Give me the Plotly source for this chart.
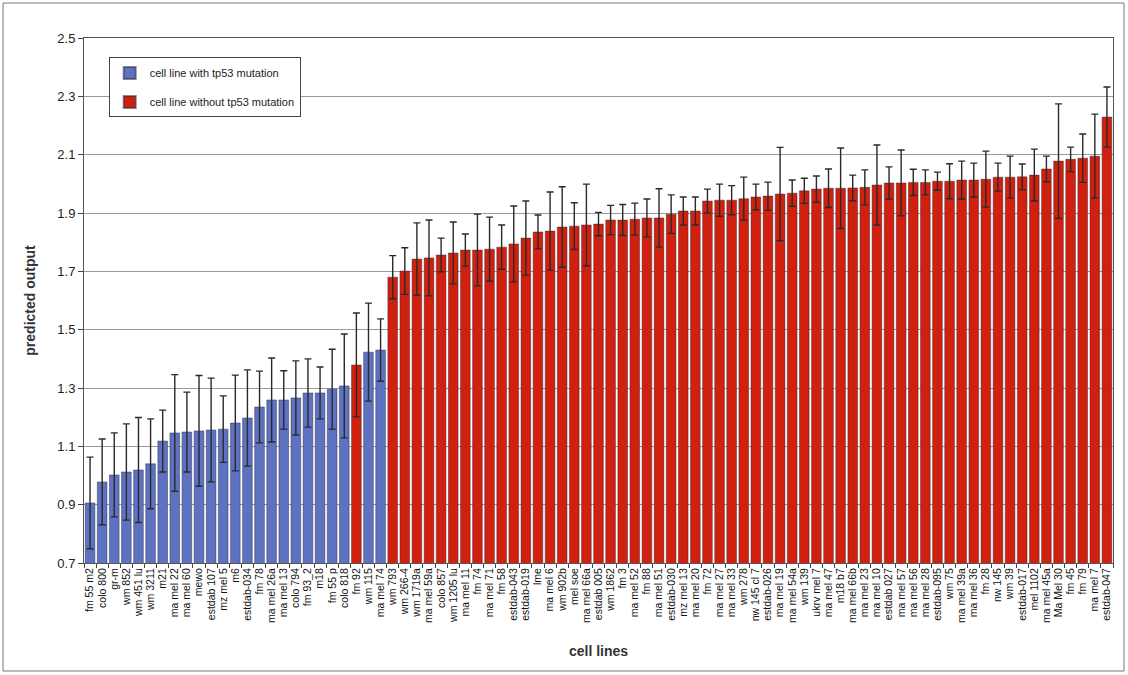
import plotly.graph_objects as go

cell_lines = [
    "fm 55 m2", "colo 800", "gr-m", "wm 852", "wm 451 lu", "wm 3211", "m21",
    "ma mel 22", "ma mel 60", "mewo", "estdab 107", "mz mel 5", "m6", "estdab-034",
    "fm 78", "ma mel 26a", "ma mel 13", "colo 794", "fm 93_2", "m18", "fm 55 p",
    "colo 818", "fm 92", "wm 115", "ma mel 74", "wm 793", "wm 266-4", "wm 1719a",
    "ma mel 59a", "colo 857", "wm 1205 lu", "ma mel 11", "fm 74", "ma mel 71",
    "fm 58", "estdab-043", "estdab-019", "lme", "ma mel 6", "wm 902b", "mel soe",
    "ma mel 66a", "estdab 005", "wm 1862", "fm 3", "ma mel 52", "fm 88",
    "ma mel 51", "estdab-030", "mz mel 13", "ma mel 20", "fm 72", "ma mel 27",
    "ma mel 33", "wm 278", "nw 145 cl 7", "estdab-026", "ma mel 19", "ma mel 54a",
    "wm 139", "ukrv mel 7", "ma mel 47", "m18 b7", "ma mel 66b", "ma mel 23",
    "ma mel 10", "estdab 027", "ma mel 57", "ma mel 56", "ma mel 28", "estdab-095",
    "wm 75", "ma mel 39a", "ma mel 36", "fm 28", "nw 145", "wm 39", "estdab-017",
    "mel 1102", "ma mel 45a", "Ma Mel 30", "fm 45", "fm 79", "ma mel 7", "estdab-047",
]

predicted = [
    0.906, 0.978, 1.002, 1.012, 1.019, 1.040, 1.118, 1.146, 1.149, 1.153,
    1.156, 1.159, 1.180, 1.197, 1.235, 1.259, 1.259, 1.266, 1.283, 1.283,
    1.296, 1.307, 1.379, 1.423, 1.430, 1.680, 1.701, 1.742, 1.746, 1.756,
    1.763, 1.773, 1.773, 1.776, 1.783, 1.794, 1.814, 1.835, 1.838, 1.852,
    1.855, 1.859, 1.862, 1.876, 1.876, 1.879, 1.883, 1.883, 1.896, 1.907,
    1.907, 1.941, 1.944, 1.944, 1.949, 1.955, 1.958, 1.965, 1.968, 1.976,
    1.982, 1.985, 1.985, 1.986, 1.988, 1.996, 2.003, 2.003, 2.005, 2.005,
    2.009, 2.009, 2.013, 2.013, 2.016, 2.023, 2.023, 2.024, 2.030, 2.051,
    2.078, 2.084, 2.088, 2.095, 2.229,
]

std_error = [
    0.157, 0.147, 0.144, 0.165, 0.180, 0.154, 0.106, 0.200, 0.137, 0.190,
    0.178, 0.114, 0.164, 0.165, 0.123, 0.144, 0.100, 0.127, 0.117, 0.089,
    0.137, 0.178, 0.178, 0.168, 0.107, 0.074, 0.080, 0.124, 0.130, 0.058,
    0.106, 0.055, 0.123, 0.110, 0.076, 0.130, 0.127, 0.058, 0.134, 0.138,
    0.080, 0.140, 0.040, 0.050, 0.053, 0.055, 0.065, 0.100, 0.066, 0.048,
    0.048, 0.041, 0.055, 0.050, 0.074, 0.044, 0.048, 0.160, 0.045, 0.043,
    0.045, 0.066, 0.138, 0.044, 0.060, 0.137, 0.055, 0.113, 0.045, 0.043,
    0.031, 0.060, 0.065, 0.058, 0.096, 0.048, 0.072, 0.044, 0.089, 0.044,
    0.196, 0.042, 0.083, 0.144, 0.103,
]

# True where the cell line carries a tp53 mutation
tp53_mutated = [True] * 22 + [False] + [True] * 2 + [False] * 60

y_ticks = [0.7, 0.9, 1.1, 1.3, 1.5, 1.7, 1.9, 2.1, 2.3, 2.5]

BLUE = "#5e72c2"
RED = "#d2200f"


def subset(flag):
    idx = [i for i, m in enumerate(tp53_mutated) if m == flag]
    return ([cell_lines[i] for i in idx],
            [predicted[i] for i in idx],
            [std_error[i] for i in idx])


fig = go.Figure()
for flag, name, color in [(True, "cell line with tp53 mutation", BLUE),
                          (False, "cell line without tp53 mutation", RED)]:
    xs, ys, es = subset(flag)
    fig.add_trace(go.Bar(
        x=xs, y=ys, name=name, legendgroup=name,
        marker=dict(color=color, line=dict(color="rgba(40,40,60,0.55)", width=0.8)),
        error_y=dict(type="data", array=es, visible=True,
                     color="#2a2a2a", thickness=1.4, width=3.5),
    ))

fig.update_layout(
    width=1128, height=675,
    margin=dict(l=84, r=15, t=38, b=112),
    paper_bgcolor="white", plot_bgcolor="white",
    barmode="overlay", bargap=0.2,
    font=dict(family="Liberation Sans, Arial, sans-serif", color="#222"),
    showlegend=True,
    legend=dict(
        x=0.024, y=0.963, xanchor="left", yanchor="top",
        bgcolor="white", bordercolor="#444", borderwidth=1,
        font=dict(size=11, color="#222"),
        itemsizing="constant", tracegroupgap=10,
    ),
    xaxis=dict(
        categoryorder="array", categoryarray=cell_lines,
        tickmode="linear", tick0=0, dtick=1,
        tickangle=-90, tickfont=dict(size=10.5, color="#111"),
        ticks="outside", ticklen=4, tickson="boundaries", tickcolor="#444",
        showline=True, linecolor="#555", linewidth=1, mirror=True,
        title=dict(text="<b>cell lines</b>", font=dict(size=14, color="#333"), standoff=24),
    ),
    yaxis=dict(
        range=[0.7, 2.5], tickvals=y_ticks,
        ticktext=[f"{v:.1f}" for v in y_ticks],
        tickfont=dict(size=13, color="#222"),
        ticks="outside", ticklen=5, tickcolor="#444",
        showgrid=True, gridcolor="#9a9a9a", gridwidth=1,
        showline=True, linecolor="#555", linewidth=1, mirror=True,
        zeroline=False,
        title=dict(text="<b>predicted output</b>", font=dict(size=14, color="#333"), standoff=18),
    ),
    shapes=[dict(
        type="rect", xref="paper", yref="paper",
        x0=(3 - 84) / 1029, x1=(1124 - 84) / 1029,
        y0=(563 - 671) / 525, y1=(563 - 3) / 525,
        line=dict(color="#777", width=1), fillcolor="rgba(0,0,0,0)", layer="below",
    )],
)

fig.write_html("out.html")
